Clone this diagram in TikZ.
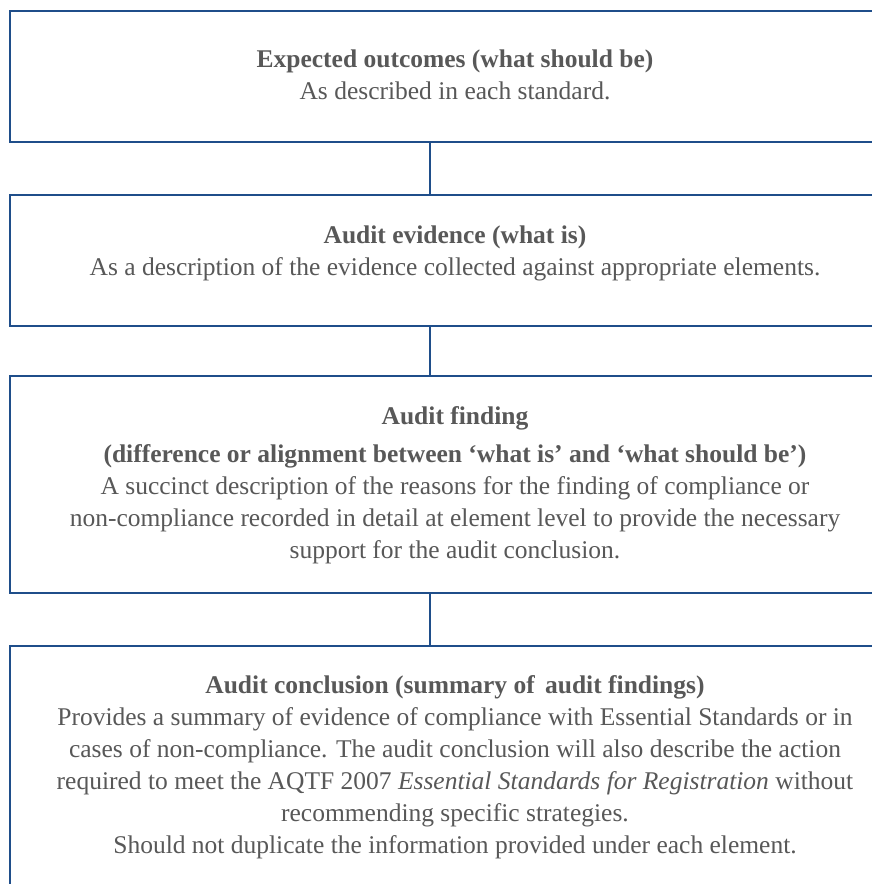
\documentclass[tikz,border=0pt]{standalone}
\usepackage{fontspec}
\setmainfont{Liberation Serif}
\definecolor{boxblue}{RGB}{31,78,138}
\definecolor{txtgray}{RGB}{88,88,88}
\begin{document}
\begin{tikzpicture}[x=1pt,y=-1pt,
  box/.style={draw=boxblue, line width=1.4pt, rectangle, inner sep=0pt, outer sep=0pt, minimum width=890pt, anchor=north west},
  txt/.style={text=txtgray, align=center, inner sep=0pt, anchor=north, font=\fontsize{25.5}{32}\selectfont},
  link/.style={draw=boxblue, line width=1.4pt}]
\useasboundingbox (0,0) rectangle (872,884);
\clip (0,0) rectangle (872,884);
\fill[white] (0,0) rectangle (872,884);
\node[box, minimum height=131pt] (b1) at (10,11) {};
\node[box, minimum height=131pt] (b2) at (10,195) {};
\node[box, minimum height=217pt] (b3) at (10,376) {};
\node[box, minimum height=300pt] (b4) at (10,646) {};
\coordinate (cx) at (430,0);
\draw[link] (b1.south -| cx) -- (b2.north -| cx);
\draw[link] (b2.south -| cx) -- (b3.north -| cx);
\draw[link] (b3.south -| cx) -- (b4.north -| cx);
\node[txt] (t1) at (455,49.5) {\textbf{Expected outcomes (what should be)}\\As described in each standard.};
\node[txt] (t2) at (455,225.5) {\textbf{Audit evidence (what is)}\\As a description of the evidence collected against appropriate elements.};
\node[txt] (t3) at (455,406.5) {\textbf{Audit finding}\\[6pt]\textbf{(difference or alignment between ‘what is’ and ‘what should be’)}\\A succinct description of the reasons for the finding of compliance or\\non-compliance recorded in detail at element level to provide the necessary\\support for the audit conclusion.};
\node[txt] (t4) at (455,675.5) {\textbf{Audit conclusion (summary of\hspace{4pt} audit findings)}\\Provides a summary of evidence of compliance with Essential Standards or in\\cases of non-compliance. The audit conclusion will also describe the action\\required to meet the AQTF 2007 \textit{Essential Standards for Registration} without\\recommending specific strategies.\\Should not duplicate the information provided under each element.};
\end{tikzpicture}
\end{document}
